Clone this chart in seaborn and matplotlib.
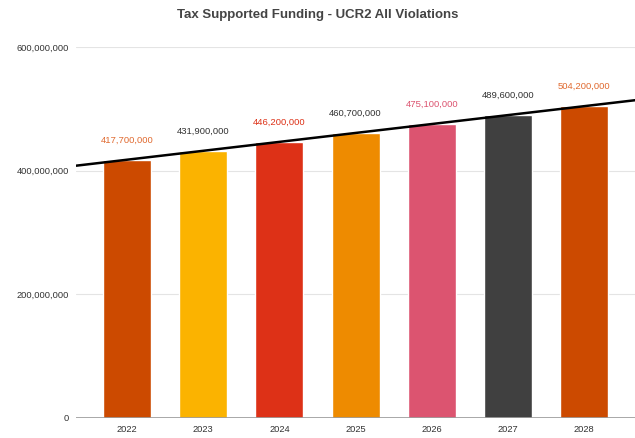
import numpy as np
import pandas as pd
import matplotlib
matplotlib.use("Agg")
import matplotlib.pyplot as plt
import seaborn as sns

years = ["2022", "2023", "2024", "2025", "2026", "2027", "2028"]
funding = [417700000, 431900000, 446200000, 460700000, 475100000, 489600000, 504200000]
bar_colors = ["#cc4a00", "#fbb300", "#dd3117", "#ee8b00", "#dc5470", "#404040", "#cc4a00"]
label_colors = ["#e06a30", "#333333", "#dd3117", "#333333", "#dc5470", "#333333", "#e06a30"]
y_ticks = [0, 200000000, 400000000, 600000000]
y_tick_labels = ["0", "200,000,000", "400,000,000", "600,000,000"]

df = pd.DataFrame({"year": years, "funding": funding})

sns.set_theme(style="white")
plt.rcParams["font.family"] = ["Liberation Sans", "DejaVu Sans"]

fig = plt.figure(figsize=(6.35, 4.38), dpi=100)
ax = fig.add_axes([0.12, 0.046, 0.88, 0.847])

sns.barplot(data=df, x="year", y="funding", hue="year", palette=bar_colors,
            legend=False, width=0.63, saturation=1, ax=ax, zorder=2)

# value labels above each bar
for i, (v, c) in enumerate(zip(funding, label_colors)):
    ax.text(i, v + 24000000, f"{v:,}", ha="center", va="bottom",
            fontsize=6.8, color=c, zorder=4)

# linear trend line through the yearly values
xs = np.arange(len(years))
slope, intercept = np.polyfit(xs, funding, 1)
xl = np.array([-0.67, 6.67])
ax.plot(xl, slope * xl + intercept, color="black", lw=1.8, zorder=3)

ax.set_xlim(-0.67, 6.67)
ax.set_ylim(0, 600000000)
ax.set_yticks(y_ticks)
ax.set_yticklabels(y_tick_labels)
ax.yaxis.grid(True, color="#e4e4e4", lw=0.8, zorder=0)
ax.axhline(0, color="#9a9a9a", lw=1.2, zorder=3)
ax.tick_params(axis="both", length=0, labelsize=6.7, colors="#333333")
ax.tick_params(axis="y", pad=5)
ax.tick_params(axis="x", pad=5)
ax.set_xlabel("")
ax.set_ylabel("")
for s in ax.spines.values():
    s.set_visible(False)

fig.text(0.5, 0.965, "Tax Supported Funding - UCR2 All Violations", ha="center",
         va="center", fontsize=9.5, fontweight="bold", color="#444444")

fig.savefig("out.png", dpi=100)
